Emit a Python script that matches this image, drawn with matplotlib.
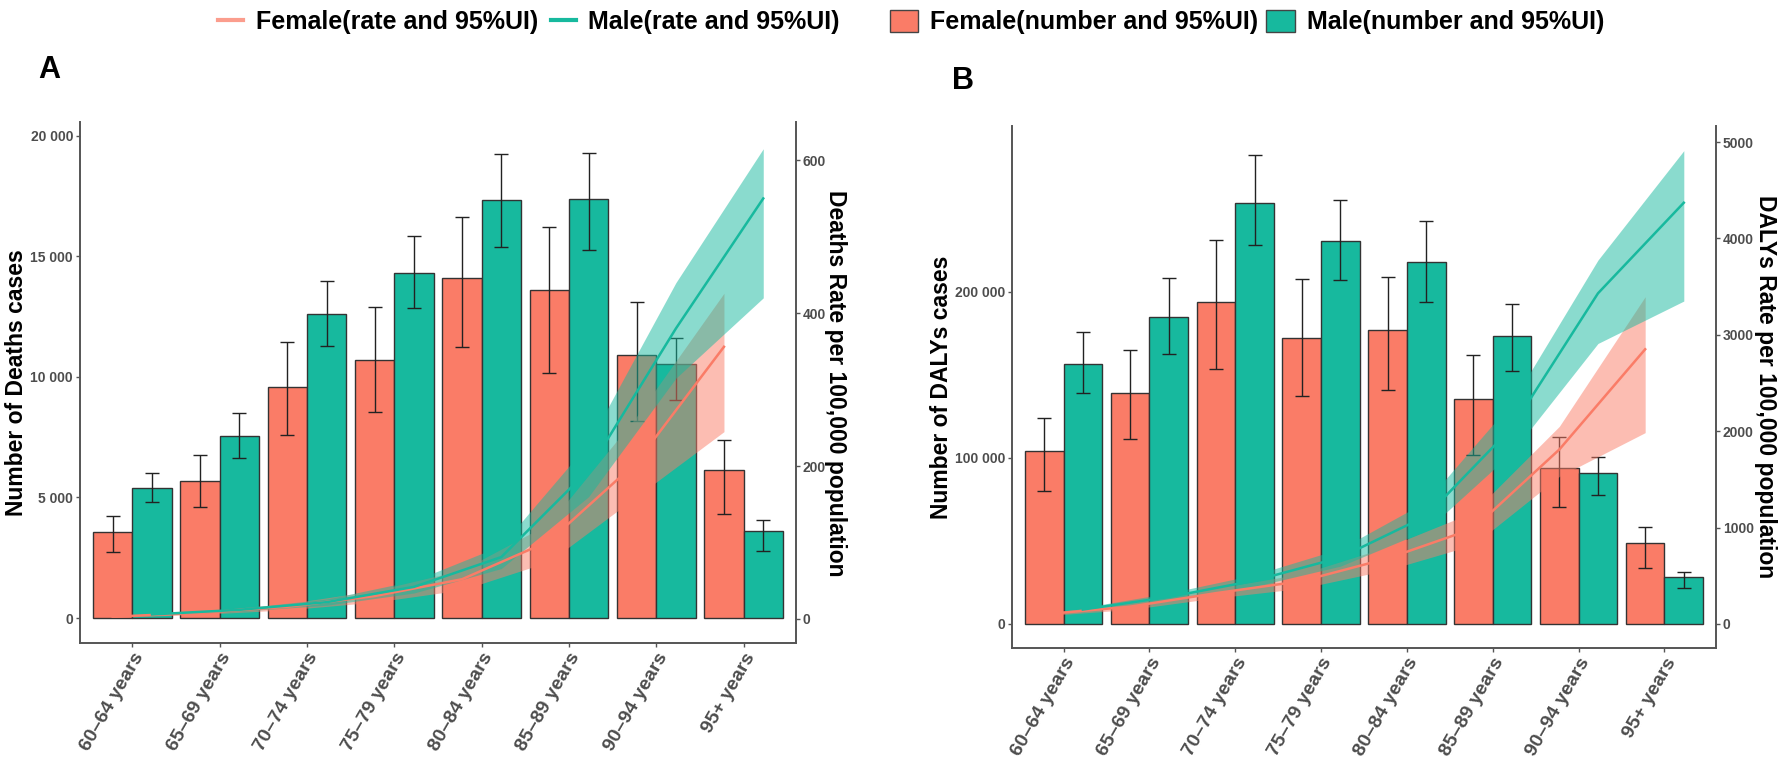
import numpy as np
import matplotlib.pyplot as plt
from matplotlib.lines import Line2D
from matplotlib.patches import Patch
from matplotlib.ticker import FuncFormatter, FixedLocator

plt.rcParams['font.family'] = ['Liberation Sans', 'DejaVu Sans']

ages = ['60–64 years', '65–69 years', '70–74 years', '75–79 years',
        '80–84 years', '85–89 years', '90–94 years', '95+ years']

# panel A: deaths
deaths_f = [3550, 5700, 9600, 10700, 14100, 13600, 10900, 6150]
deaths_f_lo = [2750, 4600, 7600, 8550, 11230, 10160, 8180, 4300]
deaths_f_hi = [4250, 6750, 11450, 12900, 16640, 16230, 13100, 7380]
deaths_m = [5400, 7550, 12600, 14330, 17340, 17380, 10520, 3600]
deaths_m_lo = [4800, 6650, 11300, 12880, 15380, 15250, 9040, 2780]
deaths_m_hi = [6000, 8500, 14000, 15850, 19260, 19300, 11630, 4050]

death_rate_f = [3, 8, 16, 30, 52, 102, 205, 356]
death_rate_f_lo = [2, 6, 12, 22, 38, 75, 160, 245]
death_rate_f_hi = [4, 10, 20, 37, 64, 125, 265, 426]
death_rate_m = [6, 12, 22, 42, 81, 195, 380, 550]
death_rate_m_lo = [5, 10, 18, 34, 66, 160, 315, 420]
death_rate_m_hi = [7, 14, 26, 50, 96, 230, 440, 615]

# panel B: DALYs
dalys_f = [104400, 139400, 194000, 172300, 176900, 135300, 94200, 48600]
dalys_f_lo = [80300, 111400, 153400, 137300, 141200, 101600, 70700, 33900]
dalys_f_hi = [123900, 165100, 231500, 207600, 209200, 161800, 112900, 58600]
dalys_m = [156800, 184900, 253800, 230700, 218300, 173300, 90800, 28100]
dalys_m_lo = [139400, 162700, 228100, 207400, 193800, 152400, 77700, 21500]
dalys_m_hi = [175700, 208400, 282500, 255600, 242600, 192800, 100800, 31500]

daly_rate_f = [100, 180, 320, 445, 680, 990, 1810, 2850]
daly_rate_f_lo = [85, 150, 270, 370, 560, 820, 1530, 1985]
daly_rate_f_hi = [115, 210, 370, 520, 800, 1160, 2050, 3395]
daly_rate_m = [150, 280, 450, 690, 1120, 2040, 3430, 4370]
daly_rate_m_lo = [130, 240, 390, 600, 970, 1780, 2910, 3350]
daly_rate_m_hi = [170, 320, 510, 780, 1270, 2300, 3775, 4910]

FEM = '#FA7C67'
MAL = '#17B99E'
AXC = '#555555'
TXC = '#4d4d4d'
W, H = 1784, 766


def space_thousands(v, pos):
    return '{:,.0f}'.format(v).replace(',', ' ')


def plain(v, pos):
    return '{:.0f}'.format(v)


def panel(rect, nf, nf_lo, nf_hi, nm, nm_lo, nm_hi,
          rf, rf_lo, rf_hi, rm, rm_lo, rm_hi,
          ylim, yticks, ylim2, yticks2):
    ax = fig.add_axes(rect)
    x = np.arange(len(ages))
    w = 0.45
    nf, nm = np.array(nf), np.array(nm)
    ax.bar(x - w / 2, nf, w, color=FEM, edgecolor='#333333', lw=1.0, zorder=2)
    ax.bar(x + w / 2, nm, w, color=MAL, edgecolor='#333333', lw=1.0, zorder=2)
    ax.errorbar(x - w / 2, nf, yerr=[nf - np.array(nf_lo), np.array(nf_hi) - nf],
                fmt='none', ecolor='#222222', elinewidth=1.0, capsize=5, capthick=1.0, zorder=3)
    ax.errorbar(x + w / 2, nm, yerr=[nm - np.array(nm_lo), np.array(nm_hi) - nm],
                fmt='none', ecolor='#222222', elinewidth=1.0, capsize=5, capthick=1.0, zorder=3)
    ax.set_xlim(-0.6, len(ages) - 0.4)
    ax.set_ylim(*ylim)
    ax.yaxis.set_major_locator(FixedLocator(yticks))
    ax.yaxis.set_major_formatter(FuncFormatter(space_thousands))
    ax.set_xticks(x)
    ax.set_xticklabels(ages, rotation=60, ha='right', va='top', rotation_mode='anchor',
                       fontsize=14, fontweight='bold', color=TXC)
    for lab in ax.get_yticklabels():
        lab.set_fontsize(10)
        lab.set_fontweight('bold')
        lab.set_color(TXC)

    ax2 = ax.twinx()
    ax2.fill_between(x - w / 2, rf_lo, rf_hi, color=FEM, alpha=0.5, lw=0)
    ax2.fill_between(x + w / 2, rm_lo, rm_hi, color=MAL, alpha=0.5, lw=0)
    ax2.plot(x - w / 2, rf, color=FEM, lw=1.8)
    ax2.plot(x + w / 2, rm, color=MAL, lw=1.8)
    ax2.set_ylim(*ylim2)
    ax2.yaxis.set_major_locator(FixedLocator(yticks2))
    ax2.yaxis.set_major_formatter(FuncFormatter(plain))
    for lab in ax2.get_yticklabels():
        lab.set_fontsize(10)
        lab.set_fontweight('bold')
        lab.set_color(TXC)

    for a in (ax, ax2):
        for s in a.spines.values():
            s.set_visible(False)
        a.tick_params(length=3, width=1, color=AXC, pad=2)
    ax.spines['left'].set_visible(True)
    ax.spines['bottom'].set_visible(True)
    ax2.spines['right'].set_visible(True)
    for s in (ax.spines['left'], ax.spines['bottom'], ax2.spines['right']):
        s.set_color(AXC)
        s.set_linewidth(1.4)
    return ax, ax2


fig = plt.figure(figsize=(W / 100, H / 100), dpi=100)

panel([80 / W, 1 - 643 / H, 716 / W, 521 / H],
      deaths_f, deaths_f_lo, deaths_f_hi, deaths_m, deaths_m_lo, deaths_m_hi,
      death_rate_f, death_rate_f_lo, death_rate_f_hi,
      death_rate_m, death_rate_m_lo, death_rate_m_hi,
      (-1037, 20580), [0, 5000, 10000, 15000, 20000],
      (-31.4, 650), [0, 200, 400, 600])

panel([1012 / W, 1 - 648 / H, 704 / W, 522 / H],
      dalys_f, dalys_f_lo, dalys_f_hi, dalys_m, dalys_m_lo, dalys_m_hi,
      daly_rate_f, daly_rate_f_lo, daly_rate_f_hi,
      daly_rate_m, daly_rate_m_lo, daly_rate_m_hi,
      (-14458, 300000), [0, 100000, 200000],
      (-249, 5166), [0, 1000, 2000, 3000, 4000, 5000])

title_kw = dict(fontsize=16.5, fontweight='bold', ha='center', va='center')
fig.text(17 / W, 1 - 383 / H, 'Number of Deaths cases', rotation=90, **title_kw)
fig.text(836 / W, 1 - 383 / H, 'Deaths Rate per 100,000 population', rotation=-90, **title_kw)
fig.text(941 / W, 1 - 387 / H, 'Number of DALYs cases', rotation=90, **title_kw)
fig.text(1766 / W, 1 - 387 / H, 'DALYs Rate per 100,000 population', rotation=-90, **title_kw)

fig.text(49 / W, 1 - 70 / H, 'A', fontsize=22, fontweight='bold', ha='center', va='center')
fig.text(963 / W, 1 - 81 / H, 'B', fontsize=22, fontweight='bold', ha='center', va='center')

line_handles = [Line2D([], [], color=FEM, lw=3, alpha=0.75), Line2D([], [], color=MAL, lw=3)]
fig.legend(line_handles, ['Female(rate and 95%UI)', 'Male(rate and 95%UI)'],
           loc='center', bbox_to_anchor=(529 / W, 1 - 22 / H), ncol=2, frameon=False,
           prop={'size': 18, 'weight': 'bold'}, handlelength=1.0, handletextpad=0.5,
           columnspacing=0.5, borderpad=0.1)
box_handles = [Patch(facecolor=FEM, edgecolor='#444444'), Patch(facecolor=MAL, edgecolor='#444444')]
fig.legend(box_handles, ['Female(number and 95%UI)', 'Male(number and 95%UI)'],
           loc='center', bbox_to_anchor=(1247 / W, 1 - 22 / H), ncol=2, frameon=False,
           prop={'size': 18, 'weight': 'bold'}, handlelength=1.15, handleheight=1.0,
           handletextpad=0.48, columnspacing=0.32, borderpad=0.1)

fig.savefig('out.png', dpi=100)
